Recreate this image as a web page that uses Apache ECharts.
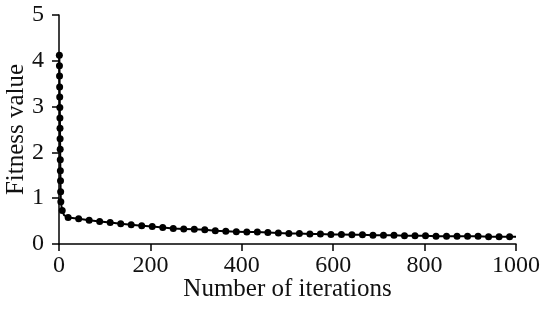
<!DOCTYPE html>
<html>
<head>
<meta charset="utf-8">
<script src="https://cdn.jsdelivr.net/npm/echarts@6/dist/echarts.min.js"></script>
<style>
  html, body { margin: 0; padding: 0; background: #fff; }
  #main { width: 550px; height: 310px; }
</style>
</head>
<body>
<div id="main"></div>
<script>
// iteration number and fitness value
var iterations = [0.8, 1, 1.2, 1.4, 1.6, 1.8, 2, 2.2, 2.4, 2.6, 2.8, 3, 3.3, 3.6, 4, 7, 11,
    20, 43, 66, 89, 112, 135, 158, 181, 204, 227, 250, 273, 296, 319, 342, 365, 388, 411,
    434, 457, 480, 503, 526, 549, 572, 595, 618, 641, 664, 687, 710, 733, 756, 779, 802,
    825, 848, 871, 894, 917, 940, 963, 986, 1000];
var fitness = [4.12, 3.89, 3.67, 3.43, 3.21, 2.98, 2.75, 2.53, 2.30, 2.07, 1.84, 1.60, 1.38,
    1.14, 0.92, 0.73, 0.63,
    0.58, 0.55, 0.52, 0.49, 0.47, 0.44, 0.42, 0.40, 0.38, 0.36, 0.34, 0.33, 0.32, 0.31,
    0.29, 0.28, 0.27, 0.26, 0.26, 0.25, 0.24, 0.23, 0.23, 0.22, 0.22, 0.21, 0.21, 0.20,
    0.20, 0.19, 0.19, 0.19, 0.18, 0.18, 0.18, 0.17, 0.17, 0.17, 0.17, 0.17, 0.16, 0.16,
    0.16, 0.16];
// points on the curve that carry no dot marker
var lineOnly = [11, 1000];

var myChart = echarts.init(document.getElementById('main'));

var font = 'Liberation Serif';
var points = [];
for (var i = 0; i < iterations.length; i++) {
    var p = { value: [iterations[i], fitness[i]] };
    if (lineOnly.indexOf(iterations[i]) >= 0) {
        p.symbol = 'none';
    }
    points.push(p);
}

var axisCommon = {
    axisLine: { lineStyle: { color: '#000', width: 1.5 } },
    axisTick: { show: true, inside: false, length: 7, lineStyle: { color: '#000', width: 1.5 } },
    splitLine: { show: false },
    nameMoveOverlap: false,
    nameTextStyle: { color: '#111', fontFamily: font, fontSize: 25 }
};

var option = {
    animation: false,
    backgroundColor: '#fff',
    grid: { left: 59, right: 34, top: 15, bottom: 66, outerBoundsMode: 'none', containLabel: false },
    xAxis: Object.assign({}, axisCommon, {
        type: 'value',
        min: 0,
        max: 1000,
        interval: 200,
        name: 'Number of iterations',
        nameLocation: 'middle',
        nameGap: 33,
        axisLabel: {
            color: '#111', fontFamily: font, fontSize: 24, margin: 10,
            formatter: function (v) { return String(v); }
        }
    }),
    yAxis: Object.assign({}, axisCommon, {
        type: 'value',
        min: 0,
        max: 5,
        interval: 1,
        name: 'Fitness value',
        nameLocation: 'middle',
        nameGap: 30,
        axisLabel: { color: '#111', fontFamily: font, fontSize: 24, margin: 15 }
    }),
    series: [{
        type: 'line',
        data: points,
        symbol: 'circle',
        symbolSize: 7,
        showAllSymbol: true,
        lineStyle: { color: '#000', width: 2 },
        itemStyle: { color: '#000' }
    }]
};

myChart.setOption(option);
</script>
</body>
</html>
